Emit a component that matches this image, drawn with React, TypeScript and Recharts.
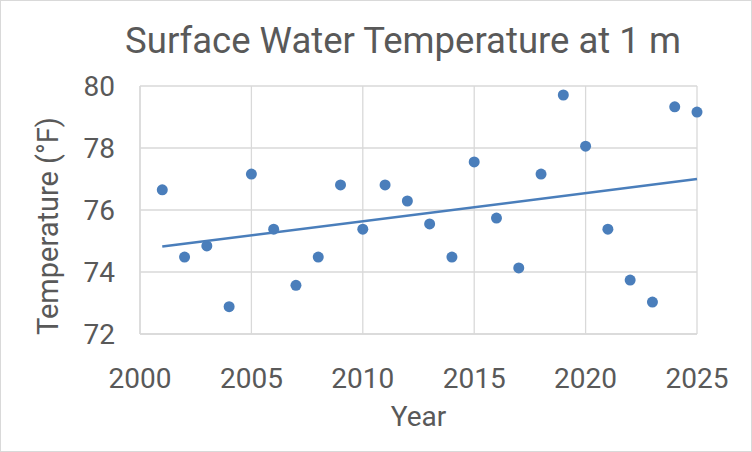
import React from 'react';
import { ScatterChart, Scatter, XAxis, YAxis, CartesianGrid, Label } from 'recharts';

// yearly readings
const years = [
  2001, 2002, 2003, 2004, 2005, 2006, 2007, 2008, 2009, 2010, 2011, 2012, 2013,
  2014, 2015, 2016, 2017, 2018, 2019, 2020, 2021, 2022, 2023, 2024, 2025,
];
const temps = [
  76.65, 74.48, 74.84, 72.88, 77.16, 75.38, 73.57, 74.48, 76.81, 75.38, 76.81, 76.29, 75.55,
  74.48, 77.55, 75.74, 74.13, 77.16, 79.71, 78.06, 75.38, 73.74, 73.03, 79.33, 79.16,
];
const xTicks = [2000, 2005, 2010, 2015, 2020, 2025];
const yTicks = [72, 74, 76, 78, 80];

const BLUE = '#4a7ebb';
const GRID = '#d9d9d9';
const TEXT = '#595959';
const FONT = 'Roboto, "Open Sans", sans-serif';

const points = years.map((year, i) => ({ year, temp: temps[i] }));

// linear trendline (least squares) over the readings
const n = years.length;
const mx = years.reduce((s, v) => s + v, 0) / n;
const my = temps.reduce((s, v) => s + v, 0) / n;
let sxy = 0;
let sxx = 0;
years.forEach((x, i) => {
  sxy += (x - mx) * (temps[i] - my);
  sxx += (x - mx) * (x - mx);
});
const slope = sxy / sxx;
const trend = [years[0], years[n - 1]].map((year) => ({ year, temp: my + slope * (year - mx) }));

const Dot = (props: any) => <circle cx={props.cx} cy={props.cy} r={5.5} fill={BLUE} />;

export default function App() {
  return (
    <div
      style={{
        position: 'absolute',
        left: 0,
        top: 0,
        width: 752,
        height: 452,
        boxSizing: 'border-box',
        border: '1px solid #d9d9d9',
        background: '#fff',
        fontFamily: FONT,
      }}
    >
      <div
        style={{
          position: 'absolute',
          top: 16,
          left: 0,
          width: 752,
          paddingLeft: 52,
          boxSizing: 'border-box',
          textAlign: 'center',
          fontSize: 36.5,
          lineHeight: '48px',
          color: TEXT,
        }}
      >
        Surface Water Temperature at 1 m
      </div>
      <div style={{ position: 'absolute', left: -1, top: -1 }}>
        <ScatterChart width={752} height={452} margin={{ top: 86, right: 55, bottom: 0, left: 0 }}>
          <CartesianGrid stroke={GRID} strokeWidth={1.3} />
          <XAxis
            type="number"
            dataKey="year"
            domain={[2000, 2025]}
            ticks={xTicks}
            height={118}
            axisLine={{ stroke: GRID, strokeWidth: 1.3 }}
            tickLine={false}
            tickSize={6}
            tickMargin={28}
            tick={{ fill: TEXT, fontSize: 28, fontFamily: FONT }}
          >
            <Label
              content={({ viewBox }: any) => (
                <text
                  x={viewBox.x + viewBox.width / 2}
                  y={viewBox.y + 92}
                  textAnchor="middle"
                  fill={TEXT}
                  fontSize={28}
                  fontFamily={FONT}
                >
                  Year
                </text>
              )}
            />
          </XAxis>
          <YAxis
            type="number"
            dataKey="temp"
            domain={[72, 80]}
            ticks={yTicks}
            width={140}
            axisLine={{ stroke: GRID, strokeWidth: 1.3 }}
            tickLine={false}
            tickSize={6}
            tickMargin={19}
            tick={{ fill: TEXT, fontSize: 28, fontFamily: FONT }}
          >
            <Label
              content={({ viewBox }: any) => {
                const cx = viewBox.x + 48;
                const cy = viewBox.y + viewBox.height / 2 + 16;
                return (
                  <text
                    x={cx}
                    y={cy}
                    transform={`rotate(-90 ${cx} ${cy})`}
                    textAnchor="middle"
                    dominantBaseline="central"
                    fill={TEXT}
                    fontSize={29}
                    fontFamily={FONT}
                  >
                    Temperature (°F)
                  </text>
                );
              }}
            />
          </YAxis>
          <Scatter data={points} shape={Dot} isAnimationActive={false} />
          <Scatter
            data={trend}
            line={{ stroke: BLUE, strokeWidth: 2.5 }}
            shape={() => <g />}
            isAnimationActive={false}
          />
        </ScatterChart>
      </div>
    </div>
  );
}
